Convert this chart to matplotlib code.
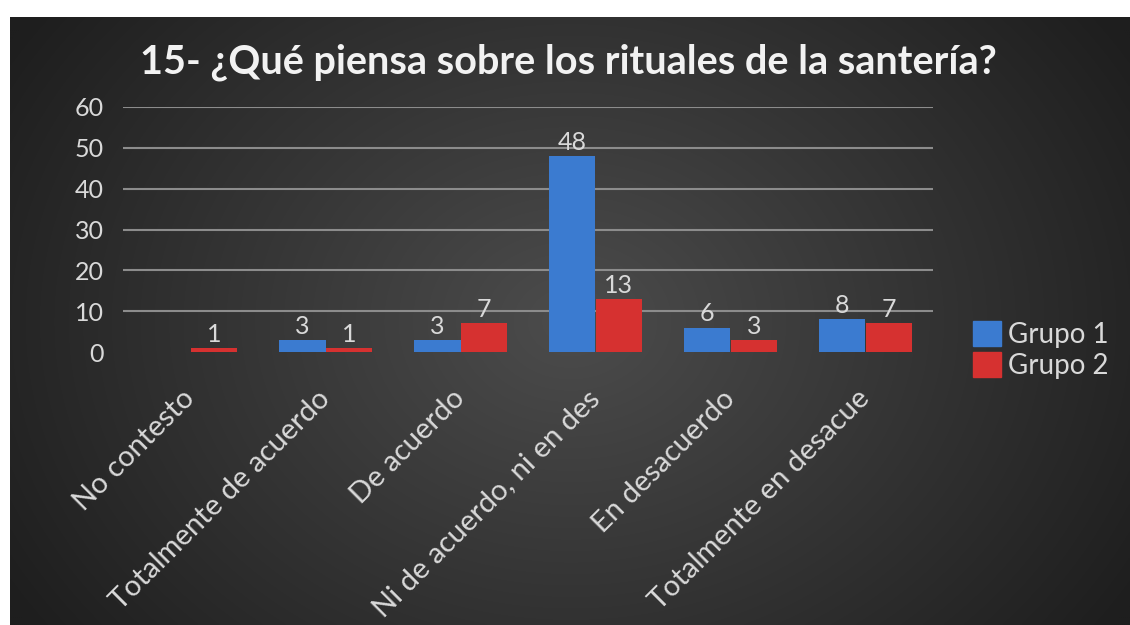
import numpy as np
import matplotlib
matplotlib.use("Agg")
import matplotlib.pyplot as plt
from matplotlib.patches import Patch
from matplotlib.transforms import ScaledTranslation

categories = ["No contesto", "Totalmente de acuerdo", "De acuerdo",
              "Ni de acuerdo, ni en des", "En desacuerdo", "Totalmente en desacue"]
grupo1 = [0, 3, 3, 48, 6, 8]
grupo2 = [1, 1, 7, 13, 3, 7]
series_names = ["Grupo 1", "Grupo 2"]
yticks = [0, 10, 20, 30, 40, 50, 60]
title = "15- ¿Qué piensa sobre los rituales de la santería?"

plt.rcParams['font.family'] = ['Lato', 'DejaVu Sans']
W, H = 1130, 625
fig = plt.figure(figsize=(W / 100, H / 100), dpi=100, facecolor="white")

# dark radial-gradient background
bg = fig.add_axes([10 / W, 0, (W - 10) / W, (H - 17) / H])
bg.set_axis_off()
yy, xx = np.mgrid[0:300, 0:560]
cx, cy = 280, 150
d = np.sqrt(((xx - cx) / 330.0) ** 2 + ((yy - cy) / 260.0) ** 2)
d = np.clip(d, 0, 1)
c0 = np.array([0x4c, 0x4c, 0x4c]) / 255
c1 = np.array([0x1e, 0x1e, 0x1e]) / 255
img = c0[None, None, :] * (1 - d[..., None]) + c1[None, None, :] * d[..., None]
bg.imshow(img, aspect='auto', extent=[0, 1, 0, 1], interpolation='bilinear')
bg.set_xlim(0, 1)
bg.set_ylim(0, 1)

ax = fig.add_axes([123 / W, 1 - 352 / H, (933 - 123) / W, (352 - 107) / H])
ax.patch.set_alpha(0)
x = np.arange(len(categories))
bw = 0.345
col1 = "#3b7bd0"
col2 = "#d63130"
b1 = ax.bar(x - bw / 2, grupo1, bw, color=col1, zorder=3)
b2 = ax.bar(x + bw / 2, grupo2, bw, color=col2, zorder=3)

txtcol = "#d9d9d9"
for bars, vals in ((b1, grupo1), (b2, grupo2)):
    for rect, v in zip(bars, vals):
        if v == 0:
            continue
        ax.text(rect.get_x() + rect.get_width() / 2, v + 0.5, str(v),
                ha='center', va='bottom', color=txtcol, fontsize=18, zorder=4)

ax.set_xlim(-0.5, len(categories) - 0.5)
ax.set_ylim(0, 60)
ax.set_yticks(yticks)
ax.set_yticklabels([str(t) for t in yticks], color=txtcol, fontsize=18)
ax.tick_params(axis='y', length=0, pad=14)
ax.set_xticks(x)
ax.set_xticklabels(categories, rotation=45, ha='right', va='top',
                   rotation_mode='anchor', color=txtcol, fontsize=21)
ax.tick_params(axis='x', length=0, pad=24)
shift = ScaledTranslation(-9 / 100, 0, fig.dpi_scale_trans)
for lbl in ax.get_xticklabels():
    lbl.set_transform(lbl.get_transform() + shift)
for t in yticks[1:]:
    ax.axhline(t, color="#8c8c8c", lw=1.5, zorder=1)
for s in ax.spines.values():
    s.set_visible(False)

fig.text(568 / W, 1 - 62 / H, title, ha='center', va='center',
         color="#f2f2f2", fontsize=28.5, fontweight='bold')

handles = [Patch(color=col1), Patch(color=col2)]
leg = fig.legend(handles, series_names, loc='center left',
                 bbox_to_anchor=(948 / W, 1 - 350 / H), frameon=False,
                 fontsize=20, handlelength=1.0, handleheight=1.0,
                 handletextpad=0.25, labelspacing=0.15)
for t in leg.get_texts():
    t.set_color(txtcol)

fig.savefig("out.png", dpi=100, facecolor="white")
